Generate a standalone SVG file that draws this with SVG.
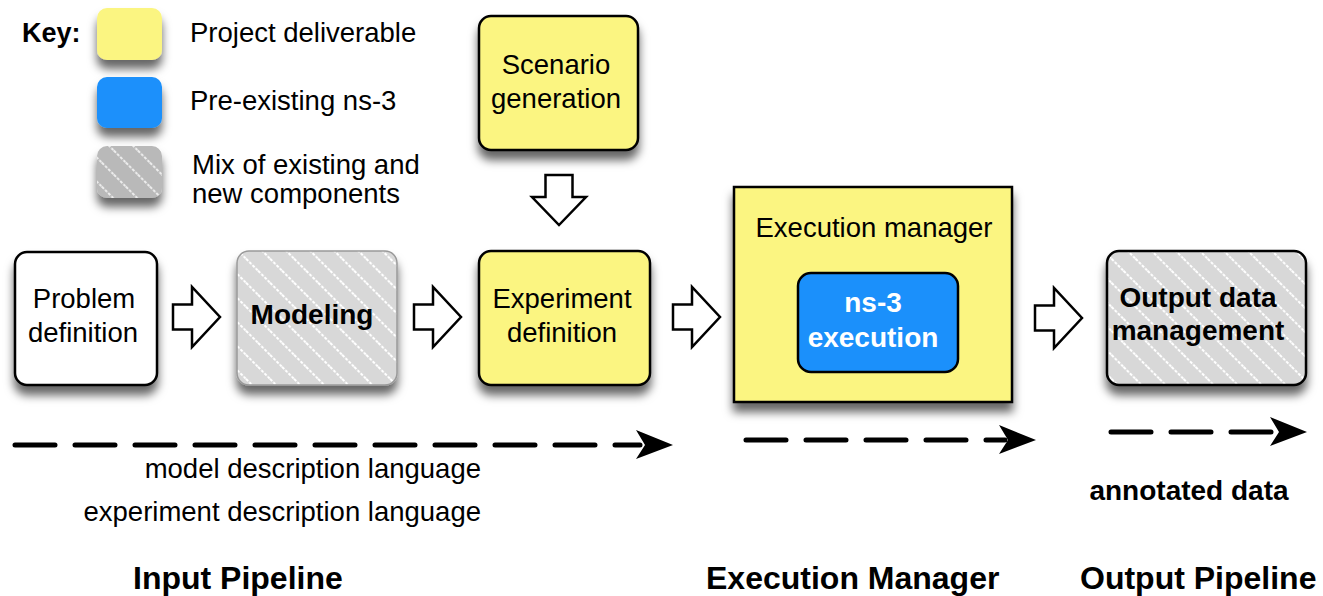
<svg xmlns="http://www.w3.org/2000/svg" width="1323" height="596" viewBox="0 0 1323 596">
<style>
  text { font-family: "Liberation Sans", Arial, Helvetica, sans-serif; fill: #000; }
  .lbl { font-size: 27.5px; }
  .b { font-weight: bold; font-size: 28px; }
  .w { fill: #fff; }
  .sec { font-weight: bold; font-size: 32px; }
  .yellow { fill: #fbf581; stroke: #000; stroke-width: 2.5; }
  .blue { fill: #1b90fb; stroke: #000; stroke-width: 2.5; }
  .white { fill: #fff; stroke: #000; stroke-width: 2.5; }
  .mixo { fill: url(#hatch); stroke: #000; stroke-width: 2.5; }
  .blk { fill: #fff; stroke: #000; stroke-width: 2.5; stroke-linejoin: miter; }
  .dash { fill: none; stroke: #000; stroke-width: 5; stroke-dasharray: 40 20; stroke-linecap: round; }
  .head { fill: #000; }
</style>
<defs>
  <filter id="sh" x="-20%" y="-20%" width="140%" height="160%">
    <feDropShadow dx="0" dy="9" stdDeviation="5" flood-color="#000" flood-opacity="0.6"/>
  </filter>
  <pattern id="hatch" width="17" height="17" patternUnits="userSpaceOnUse" patternTransform="rotate(-45)">
    <rect width="17" height="17" fill="#d8d8d8"/>
    <line x1="8" y1="0" x2="8" y2="17" stroke="#fff" stroke-width="2" stroke-dasharray="3 1.5"/>
  </pattern>
  <pattern id="hatchK" width="17" height="17" patternUnits="userSpaceOnUse" patternTransform="rotate(-45)">
    <rect width="17" height="17" fill="#b9b9b9"/>
    <line x1="8" y1="0" x2="8" y2="17" stroke="#ececec" stroke-width="2" stroke-dasharray="3 1.5"/>
  </pattern>
  <path id="rarrow" d="M0,-12.5 L19,-12.5 L19,-30 L47,0 L19,30 L19,12.5 L0,12.5 Z"/>
</defs>

<g id="key">
  <text class="b" x="22" y="42" style="font-size:27px">Key:</text>
  <rect x="97" y="8" width="65" height="52" rx="10" fill="#fbf581" filter="url(#sh)"/>
  <text class="lbl" x="190" y="42">Project deliverable</text>
  <rect x="97" y="77" width="65" height="51" rx="10" fill="#1b90fb" filter="url(#sh)"/>
  <text class="lbl" x="190" y="110">Pre-existing ns-3</text>
  <rect x="97" y="146" width="65" height="52" rx="10" fill="url(#hatchK)" filter="url(#sh)"/>
  <text class="lbl" x="192" y="174">Mix of existing and</text>
  <text class="lbl" x="192" y="203">new components</text>
</g>

<g id="problem-definition">
  <rect class="white" x="15" y="252" width="142" height="133" rx="12" filter="url(#sh)"/>
  <text class="lbl" x="84" y="308" text-anchor="middle">Problem</text>
  <text class="lbl" x="83" y="342" text-anchor="middle">definition</text>
</g>

<g id="modeling">
  <rect x="237" y="251" width="160" height="134" rx="12" fill="url(#hatch)" stroke="#999" stroke-width="1.5" filter="url(#sh)"/>
  <text class="b" x="312" y="324" text-anchor="middle">Modeling</text>
</g>

<g id="scenario-generation">
  <rect class="yellow" x="479" y="16" width="159" height="134" rx="12" filter="url(#sh)"/>
  <text class="lbl" x="556" y="74" text-anchor="middle">Scenario</text>
  <text class="lbl" x="556" y="108" text-anchor="middle">generation</text>
</g>

<g id="experiment-definition">
  <rect class="yellow" x="479" y="251" width="171" height="134" rx="12" filter="url(#sh)"/>
  <text class="lbl" x="562" y="308" text-anchor="middle">Experiment</text>
  <text class="lbl" x="562" y="342" text-anchor="middle">definition</text>
</g>

<g id="execution-manager">
  <rect class="yellow" x="734" y="187" width="278" height="215" filter="url(#sh)"/>
  <text class="lbl" x="874" y="237" text-anchor="middle">Execution manager</text>
</g>

<g id="ns3-execution">
  <rect class="blue" x="798" y="273" width="160" height="99" rx="13"/>
  <text class="b w" x="873" y="312" text-anchor="middle">ns-3</text>
  <text class="b w" x="873" y="347" text-anchor="middle">execution</text>
</g>

<g id="output-data-management">
  <rect class="mixo" x="1107" y="251" width="199" height="134" rx="12" filter="url(#sh)"/>
  <text class="b" x="1198" y="307" text-anchor="middle">Output data</text>
  <text class="b" x="1198" y="340" text-anchor="middle">management</text>
</g>

<g id="connectors">
  <use href="#rarrow" class="blk" x="173" y="317"/>
  <use href="#rarrow" class="blk" x="414" y="317"/>
  <use href="#rarrow" class="blk" x="673" y="317"/>
  <use href="#rarrow" class="blk" x="1035" y="318"/>
  <path class="blk" d="M545.5,175 L572.5,175 L572.5,197 L586,197 L559,225 L532,197 L545.5,197 Z"/>

  <line class="dash" x1="15" y1="445" x2="640" y2="445"/>
  <path class="head" d="M673,445 L636,430 L645,445 L636,459 Z"/>
  <line class="dash" x1="746" y1="440" x2="1005" y2="440"/>
  <path class="head" d="M1036,440 L999,425 L1008,440 L999,454 Z"/>
  <line class="dash" x1="1111" y1="432" x2="1276" y2="432"/>
  <path class="head" d="M1307,432 L1270,417 L1279,432 L1270,446 Z"/>
</g>

<g id="labels">
  <text class="lbl" x="481" y="478" text-anchor="end">model description language</text>
  <text class="lbl" x="481" y="521" text-anchor="end">experiment description language</text>
  <text class="b" x="1189" y="500" text-anchor="middle">annotated data</text>
  <text class="sec" x="133" y="589">Input Pipeline</text>
  <text class="sec" x="706" y="589">Execution Manager</text>
  <text class="sec" x="1080" y="589">Output Pipeline</text>
</g>
</svg>
